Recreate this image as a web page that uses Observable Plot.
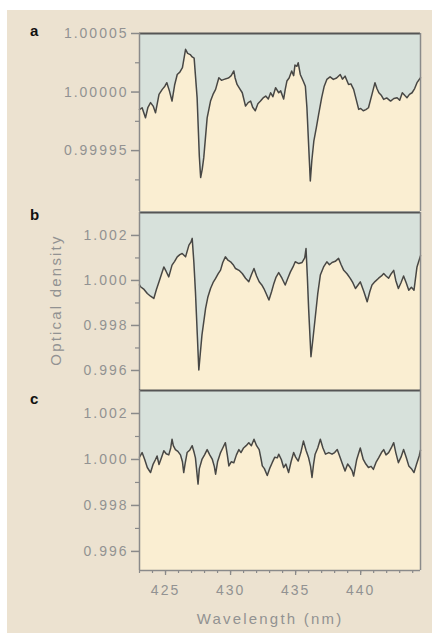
<!DOCTYPE html>
<html>
<head>
<meta charset="utf-8">
<script src="https://cdn.jsdelivr.net/npm/d3@7"></script>
<script src="https://cdn.jsdelivr.net/npm/@observablehq/plot@0.6"></script>
<style>
  html, body { margin: 0; padding: 0; background: #ffffff; }
  body { width: 432px; height: 635px; position: relative; overflow: hidden; }
  #bg { position: absolute; left: 7px; top: 10px; width: 425px; height: 623px; background: #ece2d0; }
  .panel { position: absolute; left: 0; }
  svg text { letter-spacing: 2px; }
  .plab { position: absolute; font: bold 15px "Liberation Sans", Arial, sans-serif; line-height: 1; color: #111; }
  .title { position: absolute; font: 15px "Liberation Sans", Arial, sans-serif; line-height: 1; color: #929292; letter-spacing: 2.2px; white-space: nowrap; }
</style>
</head>
<body>
<div id="bg"></div>
<div class="plab" style="left:30px; top:23px;">a</div>
<div class="plab" style="left:30px; top:207px;">b</div>
<div class="plab" style="left:30px; top:391px;">c</div>
<div class="title" style="left:170px; width:200px; text-align:center; top:611px;">Wavelength (nm)</div>
<div class="title" style="left:55px; top:300px; transform: translate(-50%, -50%) rotate(-90deg);">Optical density</div>
<div id="pa" class="panel" style="top:0px;"></div>
<div id="pb" class="panel" style="top:200px;"></div>
<div id="pc" class="panel" style="top:380px;"></div>
<script>
// ---- data ----
const wavelengthA = [423.0,423.2,423.46,423.65,423.85,424.05,424.23,424.5,424.75,424.95,425.1,425.3,425.5,425.7,425.9,426.1,426.3,426.54,426.7,426.9,427.05,427.2,427.43,427.6,427.7,427.82,427.94,428.2,428.46,428.65,428.85,429.1,429.3,429.5,429.7,429.87,430.05,430.25,430.35,430.5,430.7,430.9,431.15,431.35,431.54,431.7,431.9,432.1,432.3,432.5,432.7,432.9,433.08,433.25,433.46,433.7,433.85,434.08,434.2,434.33,434.5,434.7,434.85,434.95,435.1,435.2,435.36,435.6,435.75,435.87,436.0,436.13,436.25,436.4,436.6,436.77,437.0,437.2,437.4,437.65,437.9,438.15,438.43,438.6,438.8,439.07,439.25,439.46,439.65,439.85,440.0,440.2,440.4,440.6,440.87,441.1,441.25,441.4,441.6,441.77,442.0,442.3,442.55,442.8,443.0,443.2,443.4,443.56,443.75,443.95,444.15,444.33,444.6];
const densityA = [0.999985,0.9999866,0.999978,0.999987,0.999991,0.999988,0.9999823,0.999998,1.0000023,1.000005,1.000008,1.000001,0.9999923,1.000006,1.000015,1.000017,1.0000208,1.0000365,1.000033,1.000032,1.00003,1.000029,0.999995,0.999945,0.999927,0.999934,0.999944,0.999978,0.9999923,0.999998,1.0000023,1.0000122,1.00001,1.0000108,1.0000115,1.0000122,1.000014,1.000018,1.000012,1.0000065,1.000003,0.9999994,0.999988,0.999991,0.9999923,0.999987,0.999984,0.99999,0.9999923,0.999995,0.9999966,0.999994,0.9999994,0.999996,1.0000037,0.9999994,1.000001,0.999994,1.000002,1.0000094,1.000012,1.000018,1.000014,1.000023,1.000022,1.000025,1.000015,1.000009,1.000005,0.9999866,0.999955,0.999924,0.999942,0.999958,0.99997,0.999981,0.999995,1.000005,1.0000108,1.000013,1.0000108,1.000012,1.000015,1.000011,1.0000136,1.0000065,1.000007,1.0000023,0.999994,0.9999852,0.999986,0.999984,0.999985,0.9999866,0.999998,1.000008,1.000003,0.9999994,0.999997,0.9999937,0.999995,0.9999923,0.9999945,0.9999952,0.999993,0.9999994,0.999997,0.9999952,0.999998,0.9999994,1.000003,1.000008,1.0000122];

const wavelengthB = [423.0,423.08,423.35,423.6,423.85,424.1,424.3,424.5,424.7,424.87,425.05,425.25,425.5,425.7,425.9,426.1,426.28,426.54,426.8,426.95,427.05,427.18,427.3,427.45,427.56,427.68,427.8,428.08,428.25,428.46,428.65,428.85,429.05,429.23,429.4,429.6,429.8,430.0,430.2,430.38,430.65,430.9,431.15,431.4,431.6,431.8,432.0,432.2,432.4,432.56,432.75,432.95,433.15,433.33,433.5,433.7,433.95,434.2,434.4,434.6,434.8,434.97,435.25,435.5,435.7,435.8,435.9,436.0,436.18,436.35,436.5,436.7,436.9,437.15,437.4,437.6,437.8,438.05,438.3,438.5,438.7,438.95,439.2,439.4,439.6,439.8,439.97,440.25,440.5,440.7,440.87,441.1,441.38,441.6,441.77,441.95,442.15,442.35,442.54,442.7,442.9,443.1,443.3,443.5,443.7,443.9,444.1,444.33,444.6];
const densityB = [0.9998,0.99972,0.9996,0.99942,0.9993,0.9992,0.9996,0.99994,1.0003,1.0006,1.0004,1.00016,1.00068,1.00085,1.00105,1.00115,1.0012,1.00105,1.00157,1.0017,1.00187,1.0008,0.9995,0.9975,0.99602,0.9968,0.99757,0.99876,0.99925,0.99964,0.9999,1.00009,1.0003,1.00046,1.0008,1.00105,1.0009,1.00083,1.0007,1.00053,1.00045,1.00031,1.0001,0.99994,1.00025,1.00053,1.0002,0.99994,0.9998,0.99964,0.9994,0.99913,0.9995,0.99987,1.00015,1.00035,1.0001,0.9998,1.0001,1.00038,1.0006,1.00083,1.00075,1.0008,1.001,1.00142,1.0002,0.99876,0.99661,0.9975,0.99831,0.9994,1.00024,1.0006,1.00083,1.0007,1.0008,1.00085,1.00098,1.0007,1.00045,1.0003,1.00009,0.9999,0.99964,0.9998,0.99994,0.9995,0.99905,0.9995,0.9998,0.99995,1.0001,1.0002,1.00031,1.0002,1.0001,1.0003,1.00045,1.0,0.99964,0.9999,1.0002,0.9999,0.99957,0.9997,0.99957,1.0006,1.0011];

const wavelengthC = [423.0,423.2,423.4,423.6,423.85,424.05,424.23,424.35,424.5,424.7,424.87,425.05,425.25,425.4,425.5,425.6,425.76,425.95,426.15,426.3,426.4,426.5,426.66,426.85,427.05,427.2,427.3,427.4,427.5,427.6,427.8,428.0,428.2,428.4,428.6,428.75,428.85,429.0,429.23,429.4,429.6,429.75,429.87,430.05,430.25,430.45,430.64,430.8,431.0,431.2,431.4,431.6,431.8,432.0,432.2,432.35,432.44,432.6,432.82,433.0,433.2,433.4,433.6,433.7,433.9,434.08,434.25,434.46,434.65,434.85,435.0,435.2,435.4,435.6,435.8,436.0,436.15,436.26,436.38,436.5,436.7,436.9,437.1,437.3,437.55,437.8,438.0,438.2,438.43,438.6,438.8,439.0,439.2,439.35,439.46,439.7,439.97,440.2,440.4,440.6,440.8,440.98,441.2,441.38,441.6,441.77,441.95,442.15,442.35,442.54,442.7,442.9,443.1,443.3,443.5,443.7,443.9,444.1,444.3,444.5,444.6];
const densityC = [1.0001,1.0003,1.0,0.99965,0.99943,0.9998,1.0,1.00015,0.99978,1.0001,1.00038,1.00025,1.0002,1.0005,1.00088,1.0006,1.00043,1.00035,1.0002,0.9999,0.99943,0.9998,1.0003,1.0004,1.0006,1.0003,1.00007,0.9995,0.99893,0.9996,1.0,1.0002,1.00043,1.0002,1.0,0.9997,0.99936,0.9999,1.0003,1.0005,1.00073,1.0002,0.99972,0.9999,0.99986,1.0002,1.00043,1.0003,1.0005,1.0006,1.00073,1.0006,1.00088,1.0006,1.00043,1.0,0.99972,0.9996,0.9993,0.9996,0.99986,1.0001,1.00007,1.00023,1.0,0.99965,0.9998,0.99943,0.9999,1.0003,1.0001,0.99993,1.0003,1.0008,1.0004,1.00007,0.9997,0.99922,0.9998,1.00023,1.0005,1.00088,1.0005,1.00023,1.0003,1.00023,1.0003,1.00043,1.00007,0.9998,0.9995,0.9998,0.99965,0.9995,0.99928,1.0,1.0005,1.0,0.9998,0.99965,0.9997,0.99957,0.9999,1.00007,1.0003,1.00043,1.0002,1.0003,1.0005,1.00073,1.0003,0.99986,1.0001,1.00043,1.0001,0.99972,0.9996,0.99943,0.9998,1.00015,1.0004];

const yTicksA = [1.00005, 1.00000, 0.99995];
const yMinorA = [1.000025, 0.999975, 0.999925];
const yTicksBC = [1.002, 1.000, 0.998, 0.996];
const yMinorBC = [1.001, 0.999, 0.997];
const xTicks = [425, 430, 435, 440];
const xMinor = [423,424,425,426,427,428,429,430,431,432,433,434,435,436,437,438,439,440,441,442,443,444];

// ---- styling ----
const X_DOMAIN = [423, 444.6];
const PANEL_BG = "#d7e1db";
const CREAM = "#faeed2";
const LINE = "#474745";
const AXIS = "#8a8a8a";

function panel(wl, od, yDomain, majors, minors, fmt, opts) {
  const data = wl.map((w, i) => ({w, v: od[i]}));
  const marks = [
    Plot.frame({fill: PANEL_BG, stroke: "none"}),
    Plot.areaY(data, {x: "w", y1: yDomain[0], y2: "v", fill: CREAM}),
    Plot.lineY(data, {x: "w", y: "v", stroke: LINE, strokeWidth: 1.5}),
    Plot.ruleY([yDomain[1]], {stroke: "#555", strokeWidth: 2}),
    Plot.ruleX([X_DOMAIN[1]], {stroke: AXIS, strokeWidth: 1.5}),
    Plot.ruleX([X_DOMAIN[0]], {stroke: AXIS, strokeWidth: 1.5}),
    Plot.axisY({ticks: majors, tickSize: 8, tickPadding: 3, tickFormat: d3.format(fmt), label: null, stroke: AXIS, strokeWidth: 1.5}),
    Plot.axisY({ticks: minors, tickSize: 4, tickFormat: () => "", label: null, stroke: AXIS, strokeWidth: 1.2})
  ];
  if (opts.xAxis) {
    marks.push(
      Plot.ruleY([yDomain[0]], {stroke: AXIS, strokeWidth: 1.5}),
      Plot.axisX({ticks: xTicks, tickSize: 5, tickPadding: 10, tickFormat: d3.format("d"), label: null, stroke: AXIS, strokeWidth: 1.3}),
      Plot.axisX({ticks: xMinor, tickSize: 3, tickFormat: () => "", label: null, stroke: AXIS, strokeWidth: 1.2})
    );
  }
  return Plot.plot({
    width: 432,
    height: opts.height,
    marginLeft: 139,
    marginRight: 12,
    marginTop: opts.mt,
    marginBottom: opts.mb,
    x: {domain: X_DOMAIN, axis: opts.xAxis ? undefined : null},
    y: {domain: yDomain},
    clip: false,
    style: {background: "transparent", color: "#929292", fontFamily: "'Liberation Sans', Arial, sans-serif", fontSize: "14px", overflow: "visible"},
    marks
  });
}

document.getElementById("pa").append(
  panel(wavelengthA, densityA, [0.999898, 1.00005], yTicksA, yMinorA, ".5f", {height: 212, mt: 33, mb: 1})
);
document.getElementById("pb").append(
  panel(wavelengthB, densityB, [0.99511, 1.00302], yTicksBC, yMinorBC, ".3f", {height: 192, mt: 12, mb: 2})
);
document.getElementById("pc").append(
  panel(wavelengthC, densityC, [0.99517, 1.003], yTicksBC, yMinorBC, ".3f", {height: 255, mt: 10, mb: 65, xAxis: true})
);
</script>
</body>
</html>
